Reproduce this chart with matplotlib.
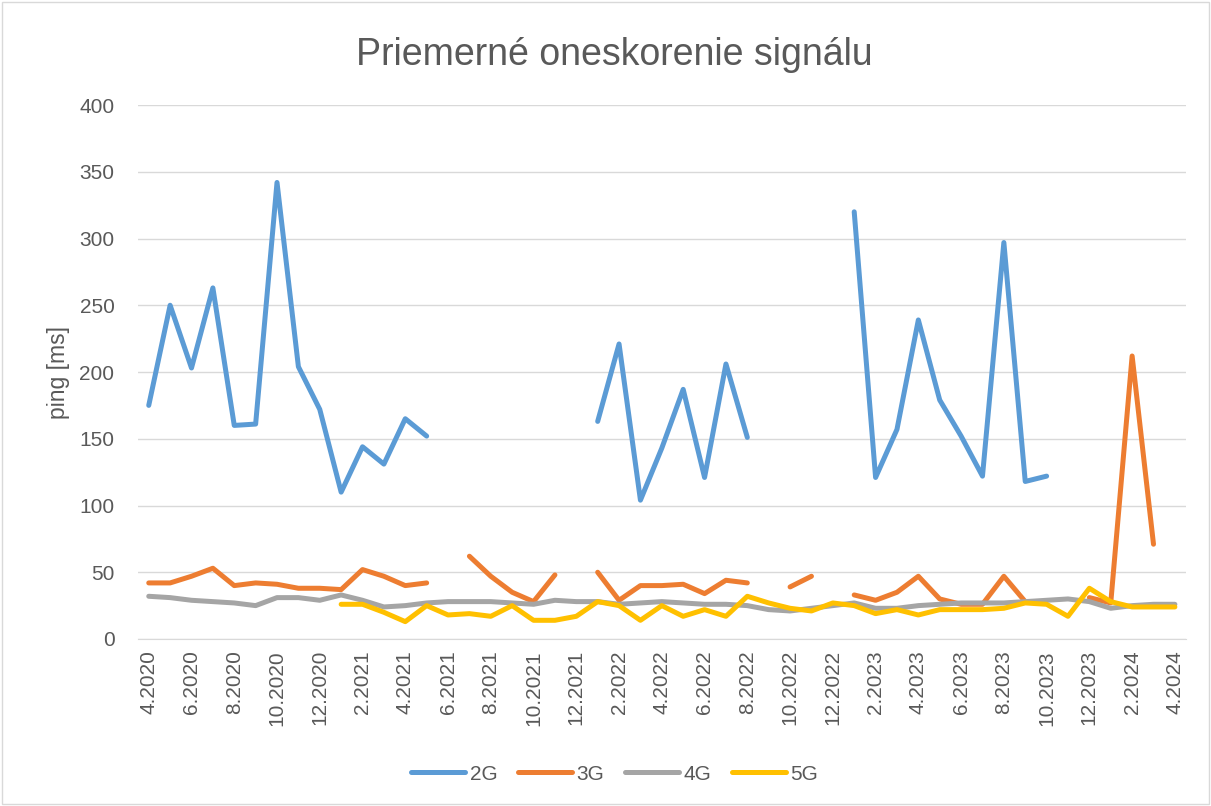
import matplotlib
matplotlib.use('Agg')
import matplotlib.pyplot as plt
import numpy as np

plt.rcParams['font.family'] = ['Liberation Sans', 'DejaVu Sans']

# months 4.2020 .. 4.2024
months = ['%d.%d' % ((m - 1) % 12 + 1, 2020 + (m - 1) // 12) for m in range(4, 53)]

nan = None
g2 = [175, 250, 203, 263, 160, 161, 342, 204, 172, 110, 144, 131, 165, 152,
      nan, nan, nan, nan, nan, nan, nan,
      163, 221, 104, 143, 187, 121, 206, 151,
      nan, nan, nan, nan,
      320, 121, 157, 239, 179, 152, 122, 297, 118, 122,
      nan, nan, nan, nan, nan, nan]
g3 = [42, 42, 47, 53, 40, 42, 41, 38, 38, 37, 52, 47, 40, 42,
      nan, 62, 47, 35, 28, 48, nan,
      50, 29, 40, 40, 41, 34, 44, 42,
      nan, 39, 47, nan,
      33, 29, 35, 47, 30, 26, 26, 47, 28, nan, nan, 31, 27, 212, 71, nan]
g4 = [32, 31, 29, 28, 27, 25, 31, 31, 29, 33, 29, 24, 25, 27, 28, 28,
      28, 27, 26, 29, 28, 28, 26, 27, 28, 27, 26, 26, 25, 22, 21,
      23, 25, 27, 23, 23, 25, 26, 27, 27, 27, 28, 29, 30, 28, 23, 25, 26, 26]
g5 = [nan, nan, nan, nan, nan, nan, nan, nan, nan,
      26, 26, 20, 13, 25, 18, 19, 17, 25, 14, 14, 17, 28, 25, 14, 25,
      17, 22, 17, 32, 27, 23, 21, 27, 25, 19, 22, 18, 22, 22, 22, 23,
      27, 26, 17, 38, 28, 24, 24, 24]

series = [('2G', g2, '#5B9BD5'), ('3G', g3, '#ED7D31'),
          ('4G', g4, '#A5A5A5'), ('5G', g5, '#FFC000')]

fig = plt.figure(figsize=(12.11, 8.06), dpi=100)
ax = fig.add_axes([0.114, 0.2072, 0.865, 0.6625])

x = np.arange(len(months))
for name, vals, col in series:
    y = np.array([np.nan if v is None else v for v in vals], dtype=float)
    ax.plot(x, y, color=col, lw=3.6, label=name, solid_capstyle='round',
            solid_joinstyle='round')

ax.set_xlim(-0.5, len(months) - 0.5)
ax.set_ylim(0, 400)
ax.set_yticks(range(0, 401, 50))
ax.set_xticks(x[::2])
ax.set_xticklabels(months[::2], rotation=90)
ax.grid(axis='y', color='#D9D9D9', lw=1)
ax.set_axisbelow(True)
for s in ['top', 'right', 'left']:
    ax.spines[s].set_visible(False)
ax.spines['bottom'].set_color('#D9D9D9')
ax.tick_params(axis='both', length=0, labelsize=15, colors='#595959')
ax.tick_params(axis='y', pad=17)
ax.tick_params(axis='x', pad=8)
ax.set_ylabel('ping [ms]', fontsize=16.5, color='#595959', labelpad=7)

fig.text(0.507, 0.919, 'Priemerné oneskorenie signálu', ha='center', va='baseline',
         fontsize=27, color='#595959')

ax.legend(loc='center', bbox_to_anchor=(0.455, -0.253), ncol=4, frameon=False,
          fontsize=15, handlelength=2.6, handletextpad=0.2, columnspacing=1.0,
          labelcolor='#595959')

fig.patches.append(plt.Rectangle((0.002, 0.002), 0.996, 0.996, transform=fig.transFigure,
                                 fill=False, edgecolor='#D9D9D9', lw=1))

fig.savefig('out.png', dpi=100, facecolor='white')
